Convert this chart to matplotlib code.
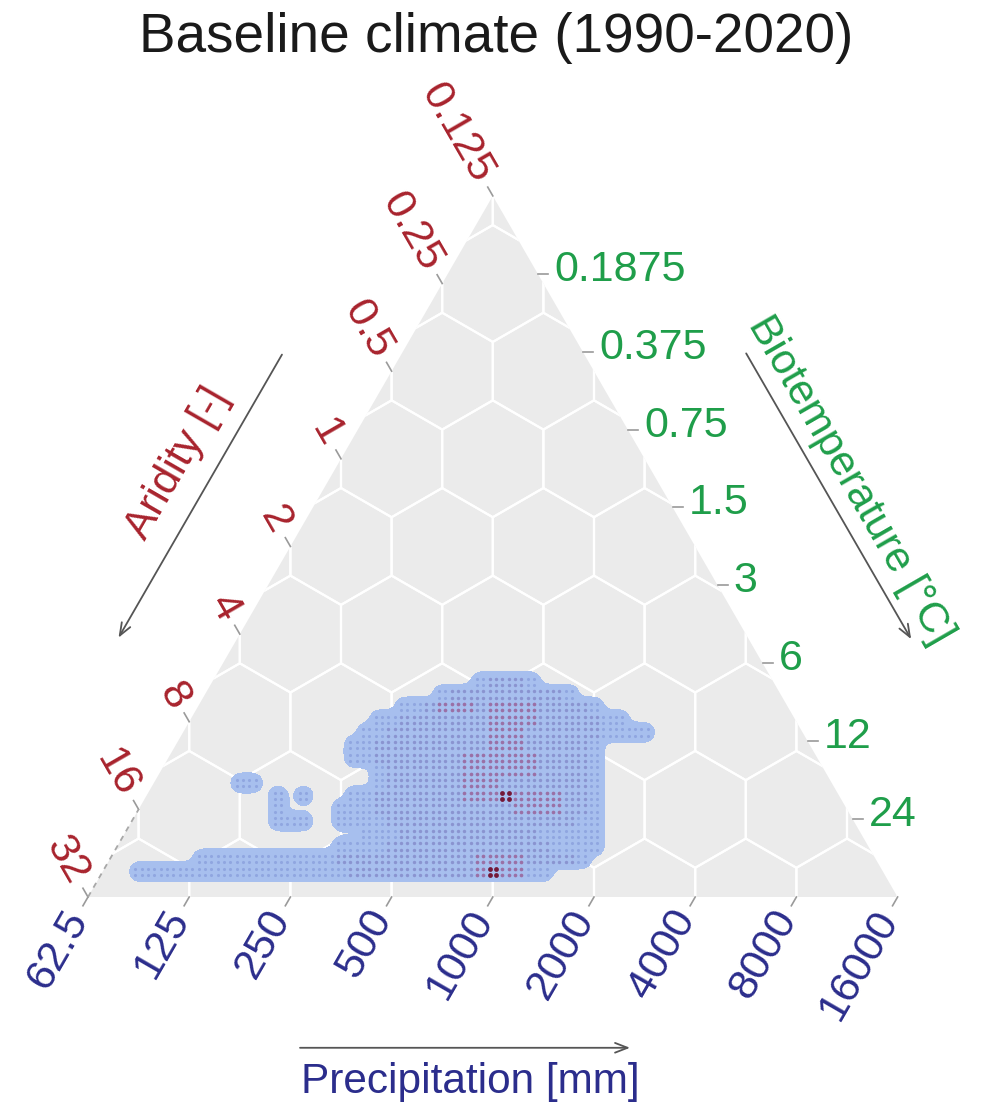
import numpy as np
import matplotlib
matplotlib.use("Agg")
import matplotlib.pyplot as plt
from matplotlib.patches import Polygon
from matplotlib.collections import LineCollection

plt.rcParams["font.family"] = ["Liberation Sans", "DejaVu Sans"]

# axis ticks (Holdridge diagram)
precip_ticks = [62.5, 125, 250, 500, 1000, 2000, 4000, 8000, 16000]
precip_labels = ["62.5", "125", "250", "500", "1000", "2000", "4000", "8000", "16000"]
aridity_ticks = [32, 16, 8, 4, 2, 1, 0.5, 0.25, 0.125]
aridity_labels = ["32", "16", "8", "4", "2", "1", "0.5", "0.25", "0.125"]
biotemp_ticks = [0.1875, 0.375, 0.75, 1.5, 3, 6, 12, 24]
biotemp_labels = ["0.1875", "0.375", "0.75", "1.5", "3", "6", "12", "24"]

# one list per row (bottom row first), runs of (first col, last col, class)
# class 1 = few points ... 4 = most points
blob_rows = [
    [(4, 20, 1), (21, 30, 2), (31, 31, 3), (32, 32, 4), (33, 34, 3), (35, 36, 1)],
    [(9, 19, 1), (20, 30, 2), (31, 34, 3), (35, 38, 2), (39, 39, 1)],
    [(20, 23, 1), (24, 36, 2), (37, 40, 1)],
    [(22, 24, 1), (25, 35, 2), (36, 40, 1)],
    [(15, 17, 1), (20, 23, 1), (24, 38, 2), (39, 40, 1)],
    [(15, 15, 1), (20, 22, 1), (23, 33, 2), (34, 37, 3), (38, 39, 2), (40, 40, 1)],
    [(15, 15, 1), (17, 17, 1), (21, 22, 1), (23, 29, 2), (30, 32, 3), (33, 33, 4),
     (34, 37, 3), (38, 39, 2), (40, 40, 1)],
    [(12, 13, 1), (23, 23, 1), (24, 29, 2), (30, 32, 3), (33, 39, 2), (40, 40, 1)],
    [(23, 23, 1), (24, 29, 2), (30, 35, 3), (36, 39, 2), (40, 40, 1)],
    [(21, 22, 1), (23, 29, 2), (30, 35, 3), (36, 39, 2), (40, 40, 1)],
    [(21, 22, 1), (23, 31, 2), (32, 34, 3), (35, 39, 2), (40, 40, 1)],
    [(22, 23, 1), (24, 31, 2), (32, 34, 3), (35, 40, 2), (41, 44, 1)],
    [(23, 24, 1), (25, 31, 2), (32, 35, 3), (36, 40, 2), (41, 42, 1)],
    [(25, 26, 1), (27, 27, 2), (28, 30, 3), (31, 31, 2), (32, 35, 3), (36, 39, 2), (40, 40, 1)],
    [(28, 28, 1), (29, 37, 2), (38, 38, 1)],
    [(31, 31, 1), (32, 34, 2), (35, 35, 1)],
]

RED = "#A8232D"
GREEN = "#1F9E4A"
BLUE = "#2B2D8C"
TICK = "#9A9A9A"
ARROW = "#555555"

H = np.sqrt(3) / 2
UNIT = 101.2  # px per doubling


def precip_x(p):
    return np.log2(p / 62.5)


def aridity_xy(a):
    t = np.log2(32 / a)
    return t / 2, t * H


def temp_y(t):
    return np.log2(48 / t) * 8 * H / 9


fig = plt.figure(figsize=(10.05, 11.06), dpi=100)
ax = fig.add_axes([0, 0, 1, 1])
ax.set_xlim(-88 / UNIT, (1005 - 88) / UNIT)
ax.set_ylim(-(1106 - 897) / UNIT, 897 / UNIT)
ax.axis("off")

tri = Polygon([(0, 0), (8, 0), (4, 8 * H)], closed=True, fc="#EBEBEB", ec="none", zorder=1)
ax.add_patch(tri)

# hexagon lattice, clipped to the triangle
R = 1 / np.sqrt(3)
ang = np.deg2rad(90 + 60 * np.arange(7))
hexes = []
for r in range(-1, 10):
    for j in range(-2, 11):
        cx, cy = 0.5 + j + r / 2, r * H
        hexes.append(np.column_stack([cx + R * np.cos(ang), cy + R * np.sin(ang)]))
lc = LineCollection(hexes, colors="white", linewidths=1.6, zorder=2)
ax.add_collection(lc)
lc.set_clip_path(tri)

# point cloud: each raster cell holds a 2x2 block of points
cells = []
for r, runs in enumerate(blob_rows):
    for c0, c1, k in runs:
        for c in range(c0, c1 + 1):
            cells.append((c / 8, 0.25 + r / 8, k))
cells = np.array(cells)

# soft halo behind the points (smoothed coverage, drawn as a filled contour)
step = 1 / 64
gx = np.arange(-0.3, 6.0, step)
gy = np.arange(-0.1, 2.7, step)
cover = np.zeros((gy.size, gx.size))
for cx, cy, _ in cells:
    ix = np.abs(gx - cx) <= 1 / 16
    iy = np.abs(gy - cy) <= 1 / 16
    cover[np.ix_(iy, ix)] = 1.0
sig = 0.05 / step
kx = np.arange(-int(4 * sig), int(4 * sig) + 1)
kern = np.exp(-0.5 * (kx / sig) ** 2)
kern /= kern.sum()
cover = np.apply_along_axis(lambda v: np.convolve(v, kern, mode="same"), 1, cover)
cover = np.apply_along_axis(lambda v: np.convolve(v, kern, mode="same"), 0, cover)
cf = ax.contourf(gx, gy, cover, levels=[0.22, 10], colors=["#A7BFEE"], zorder=3)
cf.set_clip_path(tri)

off = np.array([[-1, -1], [-1, 1], [1, -1], [1, 1]]) / 32
px = (cells[:, None, 0] + off[None, :, 0]).ravel()
py = (cells[:, None, 1] + off[None, :, 1]).ravel()
pk = np.repeat(cells[:, 2], 4)

dot_col = {1: "#90A6E0", 2: "#8A94D0", 3: "#9A70A6", 4: "#741838"}
dot_size = {1: 5, 2: 6, 3: 7, 4: 12}
for k in (1, 2, 3, 4):
    sel = pk == k
    ax.scatter(px[sel], py[sel], s=dot_size[k], c=dot_col[k], lw=0, zorder=4)

tick_len, gap = 0.1, 0.18
fs = 31

# bottom: precipitation
d = np.array([-0.5, -H])
for p, lab in zip(precip_ticks, precip_labels):
    x0 = precip_x(p)
    ax.plot([x0, x0 + d[0] * tick_len], [0, d[1] * tick_len], color=TICK, lw=1.2, zorder=2)
    ax.text(x0 + d[0] * gap, d[1] * gap, lab, rotation=60, rotation_mode="anchor",
            ha="right", va="center", color=BLUE, fontsize=fs)

# left: aridity
d = np.array([-0.5, H])
for a, lab in zip(aridity_ticks, aridity_labels):
    x0, y0 = aridity_xy(a)
    ax.plot([x0, x0 + d[0] * tick_len], [y0, y0 + d[1] * tick_len], color=TICK, lw=1.2, zorder=2)
    ax.text(x0 + d[0] * gap, y0 + d[1] * gap, lab, rotation=-60, rotation_mode="anchor",
            ha="right", va="center", color=RED, fontsize=fs)
x16, y16 = aridity_xy(16)
ax.plot([0, x16], [0, y16], color="#A8A8A8", lw=1.3, ls=(0, (3, 3)), zorder=2)

# right: biotemperature
for t, lab in zip(biotemp_ticks, biotemp_labels):
    y0 = temp_y(t)
    x0 = 8 - y0 / (2 * H)
    ax.plot([x0, x0 + tick_len], [y0, y0], color=TICK, lw=1.2, zorder=2)
    ax.text(x0 + 0.16, y0 + 0.04, lab, ha="left", va="center", color=GREEN, fontsize=fs)

arrowprops = dict(arrowstyle="->,head_length=0.9,head_width=0.35", lw=1.3, color=ARROW,
                  shrinkA=0, shrinkB=0)

# left axis title + arrow
uL, nL = np.array([0.5, H]), np.array([-H, 0.5])
ax.annotate("", xy=2.37 * uL + 1.02 * nL, xytext=5.6 * uL + 1.02 * nL, arrowprops=arrowprops)
pt = 4.15 * uL + 1.38 * nL
ax.text(pt[0], pt[1], "Aridity [-]", rotation=60, ha="center", va="center",
        rotation_mode="anchor", color=RED, fontsize=30.5)

# right axis title + arrow
o = np.array([8, 0])
uR, nR = np.array([-0.5, H]), np.array([H, 0.5])
ax.annotate("", xy=o + 2.14 * uR + 1.39 * nR, xytext=o + 5.40 * uR + 1.39 * nR,
            arrowprops=arrowprops)
pt = o + 3.80 * uR + 1.65 * nR
ax.text(pt[0], pt[1], "Biotemperature [°C]", rotation=-60, ha="center", va="center",
        rotation_mode="anchor", color=GREEN, fontsize=30.5)

# bottom axis title + arrow
ax.annotate("", xy=(5.356, -1.49), xytext=(2.095, -1.49), arrowprops=arrowprops)
ax.text(3.775, -1.83, "Precipitation [mm]", ha="center", va="center", color=BLUE, fontsize=30.5)

fig.text(0.494, 1 - 38 / 1106, "Baseline climate (1990-2020)", ha="center", va="center",
         fontsize=39.5, color="#1A1A1A")

fig.savefig("out.png", dpi=100)
